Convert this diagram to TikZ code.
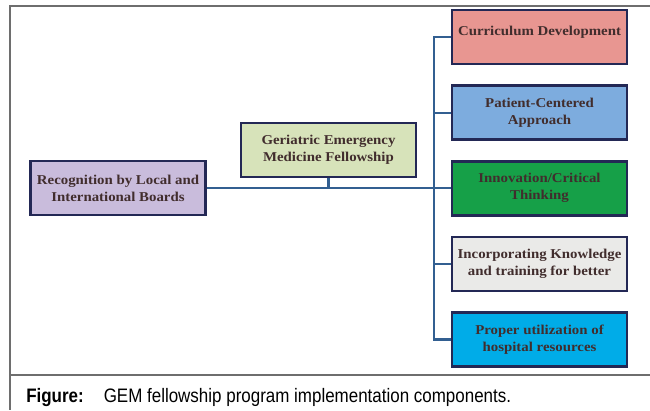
\documentclass[tikz,border=0pt]{standalone}
\usepackage{fontspec}
\setmainfont[FakeStretch=1.1]{Liberation Serif}
\newfontfamily\capfont[FakeStretch=0.87]{Liberation Sans}
\usepackage{tikz}
\usetikzlibrary{positioning}

\definecolor{boxline}{RGB}{35,40,85}
\definecolor{linkblue}{RGB}{50,95,145}
\definecolor{boxtext}{RGB}{65,45,45}
\definecolor{framegray}{RGB}{110,110,110}

\begin{document}
\begin{tikzpicture}[x=1pt, y=-1pt, node distance=19pt,
              every node/.style = {shape=rectangle, draw=boxline,
                line width=2.6pt, align=center, text=boxtext,
                font=\bfseries\fontsize{13.5}{17}\selectfont,
                minimum width=175pt, minimum height=54pt, inner sep=2pt},
              link/.style = {draw=linkblue, line width=2.2pt}]
  \useasboundingbox (0,0) rectangle (650,410);
  % outer frame and caption rule
  \draw[framegray, line width=1.3pt] (650,6) -- (10,6) -- (10,410);
  \draw[framegray, line width=1.3pt] (10,375) -- (650,375);

  \node[fill={rgb,255:red,215;green,227;blue,186}] (gem) at (328.5,150)
    {Geriatric Emergency\\Medicine Fellowship};
  \node[fill={rgb,255:red,201;green,188;blue,220}] (rec) at (118,188)
    {Recognition by Local and\\International Boards};

  \node[fill={rgb,255:red,232;green,150;blue,145}, text depth=13pt] (cur) at (539.5,37)
    {Curriculum Development};
  \node[fill={rgb,255:red,125;green,172;blue,222}, below=of cur] (pat)
    {Patient-Centered\\Approach};
  \node[fill={rgb,255:red,22;green,160;blue,72}, below=of pat] (inn)
    {Innovation/Critical\\Thinking};
  \node[fill={rgb,255:red,234;green,234;blue,232}, below=of inn] (inc)
    {Incorporating Knowledge\\and training for better};
  \node[fill={rgb,255:red,0;green,172;blue,232}, below=of inc] (pro)
    {Proper utilization of\\hospital resources};

  % connectors
  \coordinate (trunk) at (434,0);
  \draw[link] (rec.east) -- (rec.east -| inn.west);
  \draw[link] (gem.south) -- (gem.south |- rec.east);
  \draw[link] (cur.west) -- (cur.west -| trunk) -- (pro.west -| trunk) -- (pro.west);
  \foreach \n in {pat, inc}
    \draw[link] (\n.west) -- (\n.west -| trunk);

  \node[draw=none, anchor=base west, minimum width=0pt, minimum height=0pt,
    inner sep=0pt, text=black, font=\capfont\fontsize{19.5}{22}\selectfont] (cap) at (25,402)
    {\textbf{Figure:}\hspace{20pt}GEM fellowship program implementation components.};
\end{tikzpicture}
\end{document}
